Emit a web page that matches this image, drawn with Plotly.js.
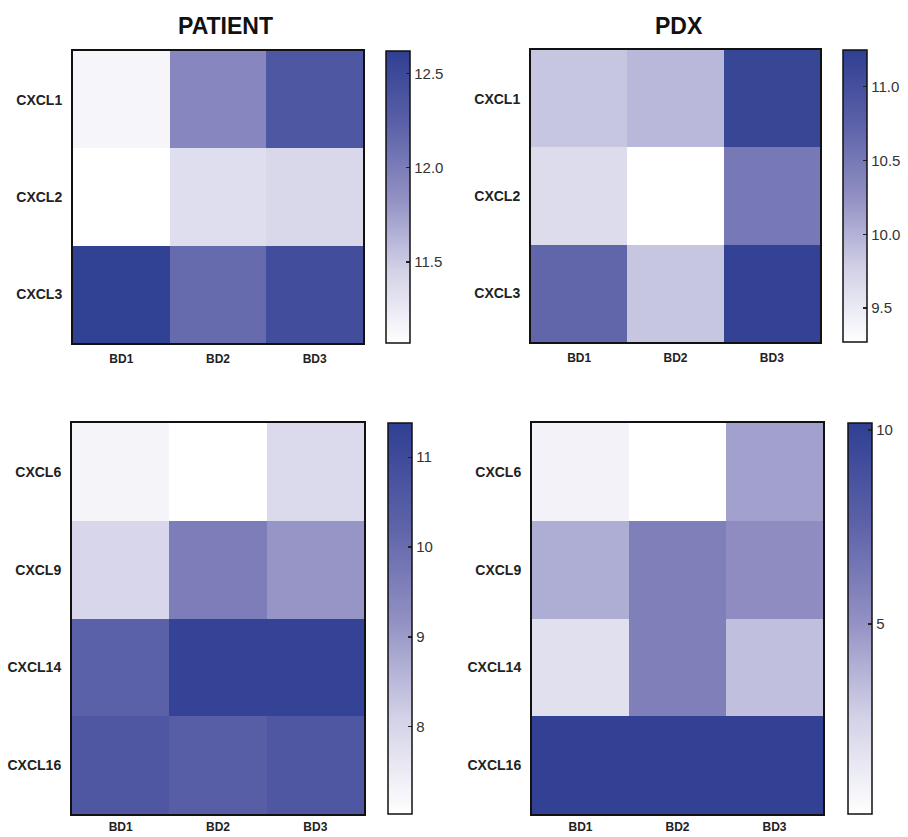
<!DOCTYPE html>
<html>
<head>
<meta charset="utf-8">
<script src="https://cdn.plot.ly/plotly-3.0.1.min.js"></script>
<style>html,body{margin:0;padding:0;background:#fff;}#chart{width:908px;height:837px;}</style>
</head>
<body>
<div id="chart"></div>
<script>
// ---- data ----
const samples = ["BD1", "BD2", "BD3"];
const genesTop = ["CXCL1", "CXCL2", "CXCL3"];
const genesBottom = ["CXCL6", "CXCL9", "CXCL14", "CXCL16"];

const patientTop = [
  [11.15, 11.92, 12.35],
  [11.07, 11.35, 11.40],
  [12.60, 12.15, 12.45]
];
const pdxTop = [
  [9.85, 9.95, 11.15],
  [9.65, 9.27, 10.50],
  [10.70, 9.85, 11.20]
];
const patientBottom = [
  [7.30, 7.03, 7.90],
  [8.00, 9.60, 9.10],
  [10.30, 11.25, 11.25],
  [10.60, 10.40, 10.60]
];
const pdxBottom = [
  [0.8, 0.1, 4.5],
  [4.0, 6.0, 5.3],
  [1.8, 6.0, 3.3],
  [10.0, 10.0, 10.0]
];

const panelTitles = ["PATIENT", "PDX"];
const ranges = [[11.07, 12.62], [9.27, 11.25], [7.03, 11.38], [0.1, 10.18]];
const cbTicks = [[11.5, 12.0, 12.5], [9.5, 10.0, 10.5, 11.0], [8, 9, 10, 11], [5, 10]];
const cbTickText = [["11.5", "12.0", "12.5"], ["9.5", "10.0", "10.5", "11.0"], ["8", "9", "10", "11"], ["5", "10"]];

// ---- styling ----
const W = 908, H = 837;
const scale = [
  [0, "#ffffff"],
  [0.25, "#d2d1e7"],
  [0.5, "#918fc3"],
  [0.75, "#5b61a8"],
  [1, "#2f3f92"]
];
const px = v => v / W;
const py = v => 1 - v / H;

// panel boxes in pixels: [x0, x1, y0(top), y1(bottom), cbx0, xlabel standoff]
const boxes = [
  [73, 363, 51, 343, 386, 4],
  [531, 820, 50, 342, 843, 4],
  [72, 364, 423, 814, 388, 1],
  [532, 823, 423, 814, 848, 1]
];
const titleX = [225, 679];
const zs = [patientTop, pdxTop, patientBottom, pdxBottom];
const ys = [genesTop, genesTop, genesBottom, genesBottom];

const traces = [];
const layout = {
  width: W, height: H,
  margin: {l: 0, r: 0, t: 0, b: 0},
  paper_bgcolor: "#fff", plot_bgcolor: "#fff",
  font: {family: "Liberation Sans, Arial, sans-serif", color: "#222"},
  showlegend: false,
  annotations: []
};

boxes.forEach((b, i) => {
  const n = i + 1;
  const sfx = n === 1 ? "" : String(n);
  traces.push({
    type: "heatmap",
    x: samples,
    y: ys[i],
    z: zs[i],
    xaxis: "x" + sfx,
    yaxis: "y" + sfx,
    colorscale: scale,
    zmin: ranges[i][0],
    zmax: ranges[i][1],
    colorbar: {
      x: px(b[4]), xanchor: "left", xpad: 0,
      y: py(b[2]), yanchor: "top", ypad: 0,
      len: b[3] - b[2], lenmode: "pixels",
      thickness: 24, thicknessmode: "pixels",
      outlinewidth: 1.5, outlinecolor: "#111",
      ticks: "inside", ticklen: 4, tickwidth: 1.2, tickcolor: "#222",
      tickvals: cbTicks[i], ticktext: cbTickText[i],
      tickfont: {size: 15, color: "#333", family: "Liberation Sans, Arial, sans-serif"}
    }
  });
  layout["xaxis" + sfx] = {
    domain: [px(b[0]), px(b[1])],
    anchor: "y" + sfx,
    showline: true, mirror: true, linecolor: "#111", linewidth: 2,
    showgrid: false, zeroline: false, ticks: "", ticklen: 0,
    ticklabelstandoff: b[5],
    tickfont: {size: 12, weight: "bold", color: "#222"},
    fixedrange: true
  };
  layout["yaxis" + sfx] = {
    domain: [py(b[3]), py(b[2])],
    anchor: "x" + sfx,
    autorange: "reversed",
    showline: true, mirror: true, linecolor: "#111", linewidth: 2,
    showgrid: false, zeroline: false, ticks: "", ticklen: 0,
    ticklabelstandoff: 6,
    tickfont: {size: 14, weight: "bold", color: "#222"},
    fixedrange: true
  };
});

panelTitles.forEach((t, i) => {
  layout.annotations.push({
    text: t, xref: "paper", yref: "paper",
    x: px(titleX[i]), y: py(26),
    xanchor: "center", yanchor: "middle", showarrow: false,
    font: {size: 23, weight: "bold", color: "#111", family: "Liberation Sans, Arial, sans-serif"}
  });
});

Plotly.newPlot("chart", traces, layout, {displayModeBar: false, staticPlot: true});
</script>
</body>
</html>
